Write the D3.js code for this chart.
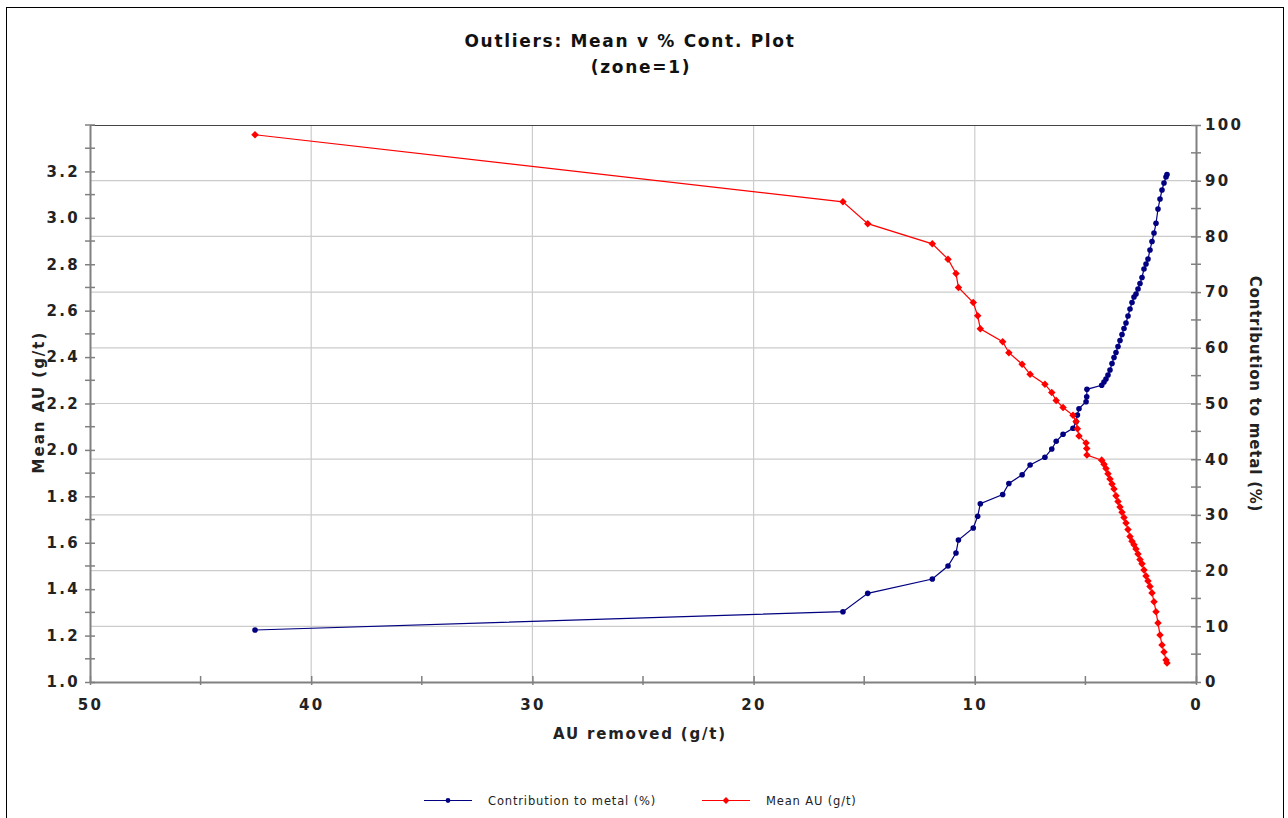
<!DOCTYPE html>
<html>
<head>
<meta charset="utf-8">
<script src="https://cdn.jsdelivr.net/npm/d3@7"></script>
<style>
  html, body { margin: 0; padding: 0; background: #fff; }
  svg { display: block; }
  text { font-family: "DejaVu Sans", Verdana, sans-serif; }
</style>
</head>
<body>
<script>
// ---- DATA ----
const titleLines = ["Outliers: Mean v % Cont. Plot", "(zone=1)"];
const xTitle = "AU removed (g/t)";
const yLeftTitle = "Mean AU (g/t)";
const yRightTitle = "Contribution to metal (%)";
const seriesNames = ["Contribution to metal (%)", "Mean AU (g/t)"];

// AU removed (g/t) - shared x values
const auRemoved = [42.54, 15.96, 14.84, 11.92, 11.21, 10.85, 10.74, 10.07, 9.87, 9.75,
  8.74, 8.46, 7.86, 7.50, 6.83, 6.52, 6.32, 6.01, 5.56, 5.42,
  5.36, 5.29, 4.97, 4.94, 4.93,
  4.263, 4.159, 4.069, 3.978, 3.888, 3.797, 3.707, 3.617, 3.526, 3.436,
  3.345, 3.255, 3.165, 3.074, 2.984, 2.893, 2.803, 2.712, 2.622, 2.532,
  2.441, 2.351, 2.260, 2.170, 2.080, 1.989, 1.899, 1.808, 1.718, 1.627,
  1.537, 1.447, 1.356, 1.311];

// Contribution to metal (%) - right axis
const contribution = [9.34, 12.62, 15.92, 18.49, 20.83, 23.16, 25.49, 27.65, 29.75, 32.01,
  33.66, 35.64, 37.22, 38.96, 40.34, 41.83, 43.21, 44.47, 45.55, 46.73,
  47.94, 49.07, 50.32, 51.22, 52.55,
  53.27, 53.86, 54.40, 55.12, 56.01, 57.18, 58.26, 59.16, 60.23, 61.31,
  62.39, 63.46, 64.45, 65.71, 66.97, 68.13, 69.12, 69.66, 70.56, 71.54,
  72.62, 74.15, 75.04, 75.94, 77.56, 79.08, 80.61, 82.35, 84.92, 86.71,
  88.33, 89.59, 90.66, 91.11];

// Mean AU (g/t) - left axis
const meanAU = [3.358, 3.069, 2.975, 2.888, 2.822, 2.760, 2.700, 2.635, 2.578, 2.522,
  2.466, 2.419, 2.369, 2.326, 2.283, 2.247, 2.213, 2.183, 2.149, 2.122,
  2.091, 2.060, 2.030, 2.006, 1.978,
  1.956, 1.938, 1.920, 1.897, 1.875, 1.853, 1.832, 1.802, 1.778, 1.754,
  1.731, 1.709, 1.685, 1.657, 1.627, 1.606, 1.591, 1.573, 1.552, 1.528,
  1.509, 1.483, 1.457, 1.435, 1.412, 1.384, 1.346, 1.303, 1.254, 1.203,
  1.159, 1.129, 1.095, 1.082];

const xTicks = [50, 40, 30, 20, 10, 0];
const xMinorTicks = [45, 35, 25, 15, 5];
const yLeftTicks = [1.0, 1.2, 1.4, 1.6, 1.8, 2.0, 2.2, 2.4, 2.6, 2.8, 3.0, 3.2];
const yLeftMinor = [1.1, 1.3, 1.5, 1.7, 1.9, 2.1, 2.3, 2.5, 2.7, 2.9, 3.1, 3.3, 3.4];
const yRightTicks = [0, 10, 20, 30, 40, 50, 60, 70, 80, 90, 100];
const yRightMinor = [5, 15, 25, 35, 45, 55, 65, 75, 85, 95];

// ---- LAYOUT ----
const W = 1288, H = 818;
const plot = { left: 90, right: 1196, top: 125, bottom: 682 };
const blue = "#000080", red = "#ff0000";
const axisColor = "#808080", gridColor = "#cccccc";

const svg = d3.select("body").append("svg").attr("width", W).attr("height", H);

// outer frame
svg.append("rect").attr("x", 6.5).attr("y", 7.5).attr("width", 1277).attr("height", 830)
  .attr("fill", "none").attr("stroke", "#000").attr("stroke-width", 1);

const x = d3.scaleLinear().domain([50, 0]).range([plot.left, plot.right]);
const yL = d3.scaleLinear().domain([1.0, 3.4]).range([plot.bottom, plot.top]);
const yR = d3.scaleLinear().domain([0, 100]).range([plot.bottom, plot.top]);

// gridlines
const grid = svg.append("g");
grid.selectAll("line.v").data(xTicks.filter(d => d !== 50 && d !== 0)).join("line")
  .attr("x1", d => x(d)).attr("x2", d => x(d)).attr("y1", plot.top).attr("y2", plot.bottom)
  .attr("stroke", gridColor).attr("stroke-width", 1.2);
grid.selectAll("line.h").data(yRightTicks.filter(d => d !== 0 && d !== 100)).join("line")
  .attr("x1", plot.left).attr("x2", plot.right).attr("y1", d => yR(d)).attr("y2", d => yR(d))
  .attr("stroke", gridColor).attr("stroke-width", 1.2);

// top border
svg.append("line").attr("x1", plot.left).attr("x2", plot.right).attr("y1", plot.top + 0.5).attr("y2", plot.top + 0.5)
  .attr("stroke", "#444").attr("stroke-width", 1);

// axes via d3 axis generators
function styleAxis(g) {
  g.select(".domain").attr("stroke", axisColor).attr("stroke-width", 2);
  g.selectAll(".tick line").attr("stroke", axisColor).attr("stroke-width", 1.5);
  g.selectAll(".tick text").attr("fill", "#222").attr("font-weight", "bold")
    .attr("font-size", "15px").attr("letter-spacing", "2.3px")
    .attr("font-family", "'DejaVu Sans', Verdana, sans-serif");
}

// bottom axis
const gx = svg.append("g").attr("transform", `translate(0,${plot.bottom})`)
  .call(d3.axisBottom(x).tickValues(xTicks).tickFormat(d3.format("d")).tickSizeInner(-6).tickSizeOuter(0).tickPadding(17));
styleAxis(gx);
gx.selectAll(".tick line").attr("y2", -6).attr("y1", 3);
gx.selectAll(".minor").data(xMinorTicks).join("line").attr("class", "minor")
  .attr("x1", d => x(d)).attr("x2", d => x(d)).attr("y1", -6).attr("y2", 3)
  .attr("stroke", axisColor).attr("stroke-width", 1.5);

// left axis
const gl = svg.append("g").attr("transform", `translate(${plot.left},0)`)
  .call(d3.axisLeft(yL).tickValues(yLeftTicks).tickFormat(d3.format(".1f")).tickSizeInner(5).tickSizeOuter(0).tickPadding(5));
styleAxis(gl);
gl.selectAll(".tick line").attr("x1", 5).attr("x2", -5);
gl.selectAll(".minor").data(yLeftMinor).join("line").attr("class", "minor")
  .attr("x1", -5).attr("x2", 5).attr("y1", d => yL(d)).attr("y2", d => yL(d))
  .attr("stroke", axisColor).attr("stroke-width", 1.5);

// right axis
const gr = svg.append("g").attr("transform", `translate(${plot.right},0)`)
  .call(d3.axisRight(yR).tickValues(yRightTicks).tickFormat(d3.format("d")).tickSizeInner(5).tickSizeOuter(0).tickPadding(4));
styleAxis(gr);
gr.selectAll(".tick line").attr("x1", -5).attr("x2", 5);
gr.selectAll(".minor").data(yRightMinor).join("line").attr("class", "minor")
  .attr("x1", -5).attr("x2", 5).attr("y1", d => yR(d)).attr("y2", d => yR(d))
  .attr("stroke", axisColor).attr("stroke-width", 1.5);

// titles
svg.append("text").attr("x", 630).attr("y", 47).attr("text-anchor", "middle").attr("letter-spacing", "1.7px")
  .attr("font-weight", "bold").attr("font-size", "17px").attr("fill", "#111").text(titleLines[0]);
svg.append("text").attr("x", 641).attr("y", 73).attr("text-anchor", "middle").attr("letter-spacing", "1.7px")
  .attr("font-weight", "bold").attr("font-size", "17px").attr("fill", "#111").text(titleLines[1]);

svg.append("text").attr("x", 640).attr("y", 739).attr("text-anchor", "middle").attr("letter-spacing", "1.8px")
  .attr("font-weight", "bold").attr("font-size", "15px").attr("fill", "#222").text(xTitle);
svg.append("text").attr("transform", "translate(44,402) rotate(-90)").attr("text-anchor", "middle").attr("letter-spacing", "2px")
  .attr("font-weight", "bold").attr("font-size", "15px").attr("fill", "#222").text(yLeftTitle);
svg.append("text").attr("transform", "translate(1250,394) rotate(90)").attr("text-anchor", "middle").attr("letter-spacing", "0.8px")
  .attr("font-weight", "bold").attr("font-size", "15px").attr("fill", "#222").text(yRightTitle);

// series
const blueData = auRemoved.map((v, i) => [v, contribution[i]]);
const redData = auRemoved.map((v, i) => [v, meanAU[i]]);

const lineB = d3.line().x(d => x(d[0])).y(d => yR(d[1]));
const lineR = d3.line().x(d => x(d[0])).y(d => yL(d[1]));

svg.append("path").datum(blueData).attr("d", lineB).attr("fill", "none").attr("stroke", blue).attr("stroke-width", 1.2);
svg.append("g").selectAll("circle").data(blueData).join("circle")
  .attr("cx", d => x(d[0])).attr("cy", d => yR(d[1])).attr("r", 2.8).attr("fill", blue);

svg.append("path").datum(redData).attr("d", lineR).attr("fill", "none").attr("stroke", red).attr("stroke-width", 1.2);
const diamond = d3.symbol().type(d3.symbolDiamond2).size(36);
svg.append("g").selectAll("path").data(redData).join("path")
  .attr("d", diamond).attr("transform", d => `translate(${x(d[0])},${yL(d[1])})`).attr("fill", red);

// legend
const lg = svg.append("g");
lg.append("line").attr("x1", 424).attr("x2", 472).attr("y1", 800.5).attr("y2", 800.5).attr("stroke", blue).attr("stroke-width", 1.2);
lg.append("circle").attr("cx", 448).attr("cy", 800.5).attr("r", 2.4).attr("fill", blue);
lg.append("text").attr("x", 488).attr("y", 805).attr("font-size", "11.5px").attr("letter-spacing", "0.85px").attr("fill", "#222").text(seriesNames[0]);
const diamondL = d3.symbol().type(d3.symbolDiamond2).size(30);
lg.append("line").attr("x1", 702).attr("x2", 750).attr("y1", 800.5).attr("y2", 800.5).attr("stroke", red).attr("stroke-width", 1.2);
lg.append("path").attr("d", diamondL).attr("transform", "translate(726,800.5)").attr("fill", red);
lg.append("text").attr("x", 766).attr("y", 805).attr("font-size", "11.5px").attr("letter-spacing", "0.85px").attr("fill", "#222").text(seriesNames[1]);
</script>
</body>
</html>
